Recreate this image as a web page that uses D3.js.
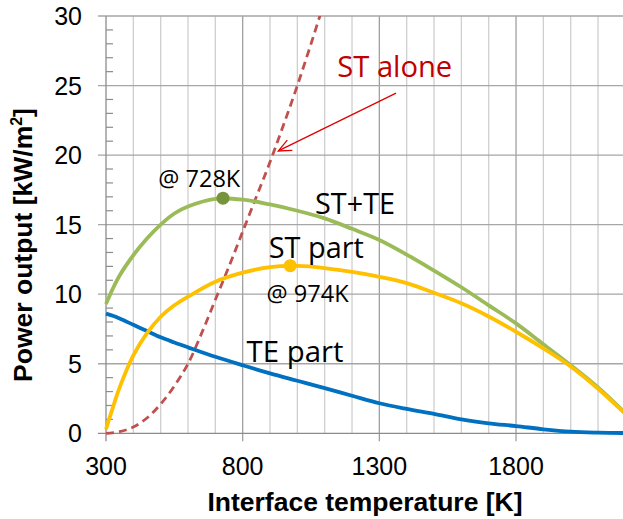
<!DOCTYPE html>
<html>
<head>
<meta charset="utf-8">
<script src="https://cdn.jsdelivr.net/npm/d3@7"></script>
<style>
  body { margin: 0; background: #fff; }
  svg { display: block; }
</style>
</head>
<body>
<script>
// temperatures [K] shared by the three solid curves
const tempK = [300, 325, 350, 400, 450, 500, 550, 600, 700, 800, 900, 1000, 1100, 1200, 1300, 1400, 1500, 1600, 1700, 1800, 1900, 2000, 2100, 2200];
const stPlusTe = [9.3, 10.4, 11.35, 12.8, 14.0, 15.0, 15.8, 16.3, 16.85, 16.8, 16.45, 16.0, 15.45, 14.7, 13.9, 12.85, 11.7, 10.5, 9.2, 7.9, 6.4, 4.9, 3.3, 1.45];
const stPart = [0.3, 1.85, 3.3, 5.6, 7.2, 8.38, 9.2, 9.82, 10.9, 11.55, 11.95, 12.03, 11.88, 11.6, 11.25, 10.8, 10.1, 9.35, 8.4, 7.3, 6.1, 4.8, 3.2, 1.4];
const tePart = [8.6, 8.45, 8.25, 7.8, 7.35, 6.9, 6.53, 6.18, 5.5, 4.89, 4.31, 3.78, 3.25, 2.7, 2.16, 1.75, 1.39, 1.0, 0.72, 0.52, 0.29, 0.12, 0.05, 0.02];

// ST alone (dashed)
const stAloneT = [300, 350, 400, 450, 500, 550, 600, 650, 700, 750, 800, 850, 900, 950, 1000, 1050, 1100];
const stAlone = [0, 0.12, 0.45, 1.1, 2.1, 3.4, 5.0, 7.2, 9.6, 12.0, 14.5, 17.0, 19.5, 22.2, 25.0, 28.0, 31.1];

// maxima
const peakT = [728, 974];
const peakP = [16.9, 12.05];
const peakLabels = ["@ 728K", "@ 974K"];

const xTicks = [300, 800, 1300, 1800];
const yTicks = [0, 5, 10, 15, 20, 25, 30];

const width = 623, height = 519;
const svg = d3.select("body").append("svg")
    .attr("width", width)
    .attr("height", height);

const x = d3.scaleLinear().domain([300, 2300]).range([106, 652.7]);
const y = d3.scaleLinear().domain([0, 30]).range([433.3, 16]);

// minor vertical grid every 100 K
const minorX = d3.range(400, 2300, 100).filter(t => t % 500 !== 300);
svg.append("g").selectAll("line")
    .data(minorX)
    .join("line")
    .attr("x1", d => x(d)).attr("x2", d => x(d))
    .attr("y1", y(30)).attr("y2", y(0))
    .attr("stroke", "#cfcfcf")
    .attr("stroke-width", 1.3);

// major vertical grid
svg.append("g").selectAll("line")
    .data(xTicks.slice(1))
    .join("line")
    .attr("x1", d => x(d)).attr("x2", d => x(d))
    .attr("y1", y(30)).attr("y2", y(0) + 8)
    .attr("stroke", "#a0a0a0")
    .attr("stroke-width", 1.3);

// horizontal grid
svg.append("g").selectAll("line")
    .data(yTicks.slice(1))
    .join("line")
    .attr("x1", x(300) - 8).attr("x2", width)
    .attr("y1", d => y(d)).attr("y2", d => y(d))
    .attr("stroke", "#a6a6a6")
    .attr("stroke-width", 1.3);

// axes lines
svg.append("line")
    .attr("x1", x(300)).attr("x2", x(300))
    .attr("y1", y(30)).attr("y2", y(0) + 8)
    .attr("stroke", "#8c8c8c").attr("stroke-width", 1.3);
svg.append("line")
    .attr("x1", x(300) - 8).attr("x2", width)
    .attr("y1", y(0)).attr("y2", y(0))
    .attr("stroke", "#8c8c8c").attr("stroke-width", 1.3);

// y minor ticks (inside)
svg.append("g").selectAll("line")
    .data(d3.range(1, 30).filter(v => v % 5 !== 0))
    .join("line")
    .attr("x1", x(300)).attr("x2", x(300) + 7)
    .attr("y1", d => y(d)).attr("y2", d => y(d))
    .attr("stroke", "#8c8c8c").attr("stroke-width", 1.2);

// tick labels
svg.append("g").selectAll("text")
    .data(yTicks)
    .join("text")
    .attr("x", 82)
    .attr("y", d => y(d) + 9)
    .attr("text-anchor", "end")
    .attr("font-family", "Liberation Sans, Arial, sans-serif")
    .attr("font-size", 25)
    .attr("fill", "#000")
    .text(d => d);

svg.append("g").selectAll("text")
    .data(xTicks)
    .join("text")
    .attr("x", d => x(d))
    .attr("y", 475)
    .attr("text-anchor", "middle")
    .attr("font-family", "Liberation Sans, Arial, sans-serif")
    .attr("font-size", 25)
    .attr("fill", "#000")
    .text(d => d);

// axis titles
svg.append("text")
    .attr("x", 365)
    .attr("y", 511)
    .attr("text-anchor", "middle")
    .attr("font-family", "Liberation Sans, Arial, sans-serif")
    .attr("font-weight", "bold")
    .attr("font-size", 26.5)
    .text("Interface temperature [K]");

const yTitle = svg.append("text")
    .attr("transform", "translate(32,245) rotate(-90)")
    .attr("text-anchor", "middle")
    .attr("font-family", "Liberation Sans, Arial, sans-serif")
    .attr("font-weight", "bold")
    .attr("font-size", 26.5);
yTitle.append("tspan").text("Power output [kW/m");
yTitle.append("tspan").attr("font-size", 16).attr("dy", -10).text("2");
yTitle.append("tspan").attr("dy", 10).text("]");

// plot clip
svg.append("clipPath").attr("id", "plotClip")
    .append("rect")
    .attr("x", x(300) - 4).attr("y", y(30))
    .attr("width", width).attr("height", y(0) - y(30) + 6);

const plot = svg.append("g").attr("clip-path", "url(#plotClip)");

const line = d3.line()
    .x(d => x(d[0]))
    .y(d => y(d[1]))
    .curve(d3.curveCatmullRom.alpha(0.5));

const zipT = vals => tempK.map((t, i) => [t, vals[i]]);

plot.append("path")
    .attr("d", line(stAloneT.map((t, i) => [t, stAlone[i]])))
    .attr("fill", "none")
    .attr("stroke", "#c0504d")
    .attr("stroke-width", 2.8)
    .attr("stroke-dasharray", "8,5");

plot.append("path")
    .attr("d", line(zipT(tePart)))
    .attr("fill", "none")
    .attr("stroke", "#0070c0")
    .attr("stroke-width", 3.8);

plot.append("path")
    .attr("d", line(zipT(stPlusTe)))
    .attr("fill", "none")
    .attr("stroke", "#9bbb59")
    .attr("stroke-width", 3.8);

plot.append("path")
    .attr("d", line(zipT(stPart)))
    .attr("fill", "none")
    .attr("stroke", "#ffc000")
    .attr("stroke-width", 3.8);

// maxima markers
const peakColors = ["#77933c", "#ffc000"];
plot.selectAll("circle.peak")
    .data(peakT)
    .join("circle")
    .attr("class", "peak")
    .attr("cx", d => x(d))
    .attr("cy", (d, i) => y(peakP[i]))
    .attr("r", 6.5)
    .attr("fill", (d, i) => peakColors[i]);

// annotations
const labelFont = "'Open Sans', 'Noto Sans', sans-serif";
function label(t, p, txt, size, len, color) {
    svg.append("text")
        .attr("x", x(t))
        .attr("y", y(p))
        .attr("font-family", labelFont)
        .attr("font-size", size)
        .attr("fill", color)
        .attr("textLength", len)
        .attr("lengthAdjust", "spacingAndGlyphs")
        .text(txt);
}
label(1146, 25.64, "ST alone", 29, 115, "#c00000");
label(1064.6, 15.78, "ST+TE", 29, 80, "#000");
label(895.5, 12.58, "ST part", 29, 95, "#000");
label(814.4, 5.15, "TE part", 29, 97, "#000");
label(491.3, 17.69, peakLabels[0], 23, 82, "#000");
label(887.5, 9.46, peakLabels[1], 23, 82, "#000");

// arrow to ST alone curve
const ax1 = x(1361), ay1 = y(24.45), ax2 = x(930.4), ay2 = y(20.3);
svg.append("line")
    .attr("x1", ax1).attr("y1", ay1)
    .attr("x2", ax2).attr("y2", ay2)
    .attr("stroke", "#e00000").attr("stroke-width", 1.3);
const ang = Math.atan2(ay1 - ay2, ax1 - ax2);
const headLen = 14, spread = 0.42;
svg.append("path")
    .attr("d", d3.line()([
        [ax2 + headLen * Math.cos(ang - spread), ay2 + headLen * Math.sin(ang - spread)],
        [ax2, ay2],
        [ax2 + headLen * Math.cos(ang + spread), ay2 + headLen * Math.sin(ang + spread)]
    ]))
    .attr("fill", "none")
    .attr("stroke", "#e00000").attr("stroke-width", 1.3);
</script>
</body>
</html>
